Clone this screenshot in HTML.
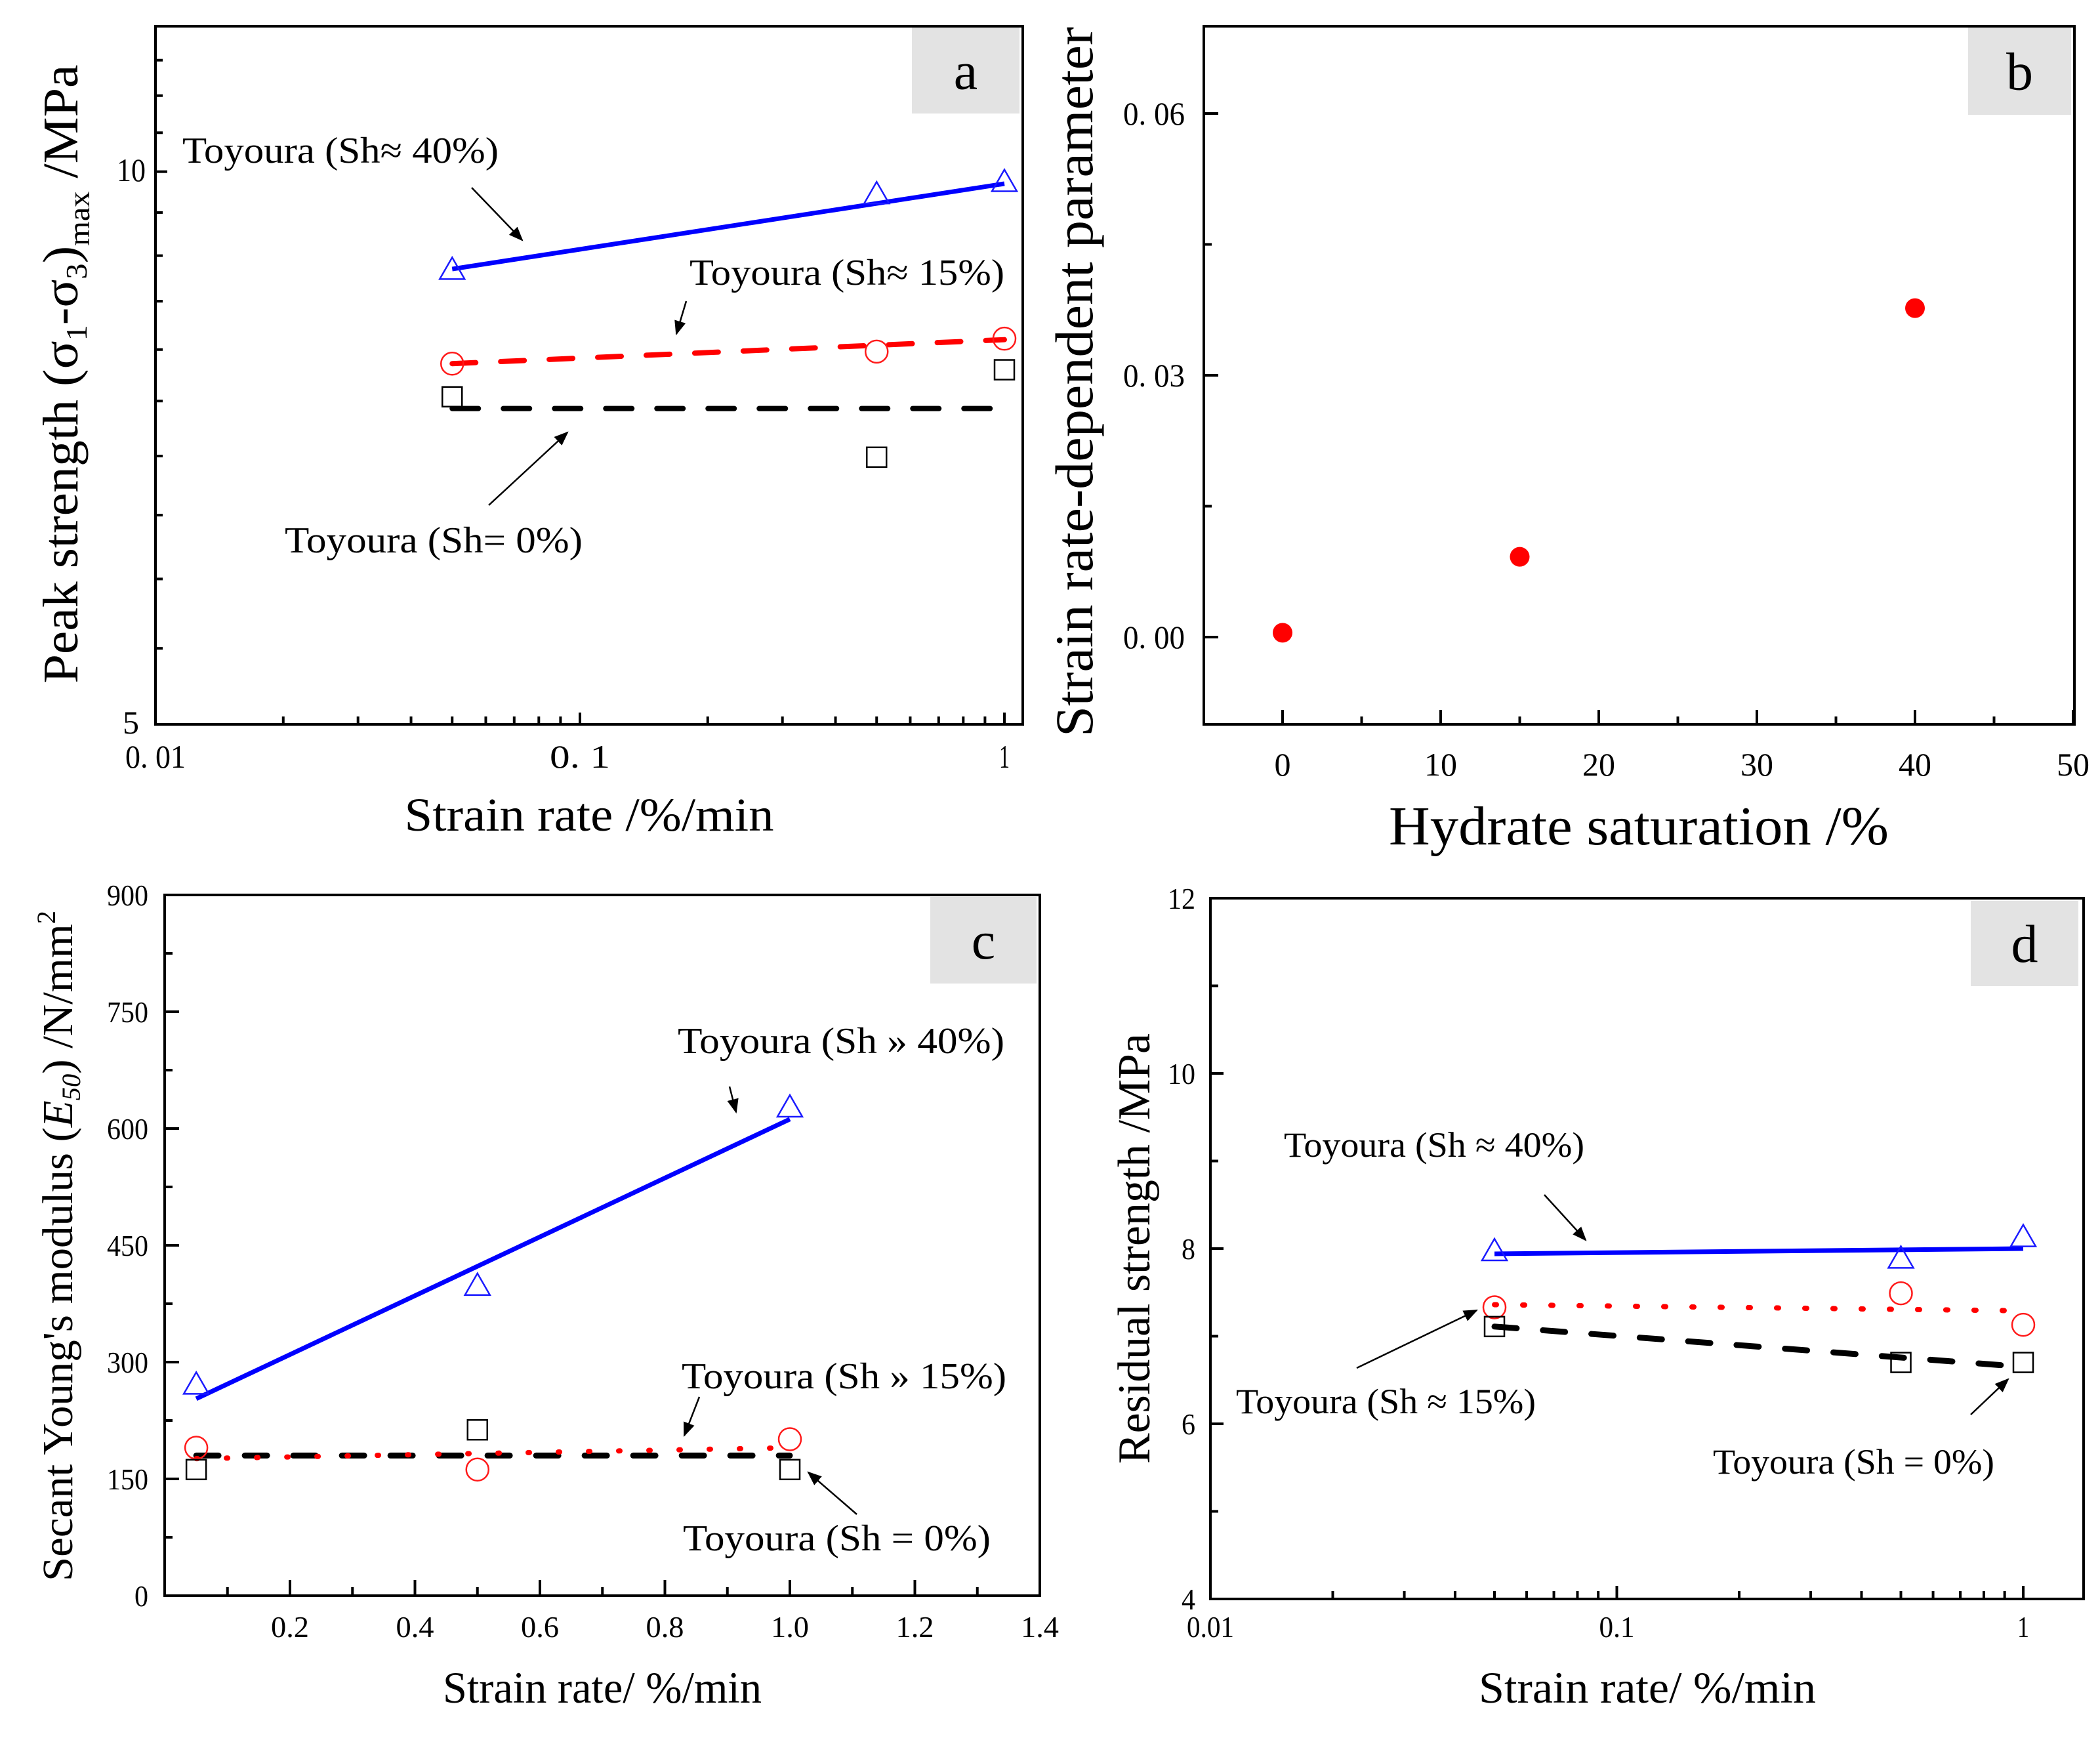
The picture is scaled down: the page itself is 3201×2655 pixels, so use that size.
<!DOCTYPE html>
<html><head><meta charset="utf-8"><style>
html,body{margin:0;padding:0;background:#fff;}
svg{display:block;}
text{font-family:"Liberation Serif",serif;fill:#000;}
</style></head><body>
<svg id="fig" xmlns="http://www.w3.org/2000/svg" width="3201" height="2655" viewBox="0 0 3201 2655"></svg>
<script>
// ---------- Panel a data ----------
const aX = [0.05, 0.5, 1];
const aSh40 = [8.84, 9.72, 9.87];
const aSh15 = [7.86, 7.98, 8.11];
const aSh0 = [7.54, 6.99, 7.8];
const aFit40 = [8.85, 9.85];
const aFit15 = [7.86, 8.1];
const aFit0 = [7.43, 7.43];
const aXTicks = ["0. 01", "0. 1", "1"];
const aYTicks = ["5", "10"];
// ---------- Panel b data ----------
const bX = [0, 15, 40];
const bY = [0.0005, 0.0092, 0.0377];
const bXTicks = ["0", "10", "20", "30", "40", "50"];
const bYTicks = ["0. 00", "0. 03", "0. 06"];
// ---------- Panel c data ----------
const cX = [0.05, 0.5, 1.0];
const cSh40 = [271, 398, 627];
const cSh15 = [190, 162, 201];
const cSh0 = [162, 213, 162];
const cFit40 = [253, 612];
const cFit15 = [176, 190];
const cFit0 = [180, 180];
const cXTicks = ["0.2", "0.4", "0.6", "0.8", "1.0", "1.2", "1.4"];
const cYTicks = ["0", "150", "300", "450", "600", "750", "900"];
// ---------- Panel d data ----------
const dX = [0.05, 0.5, 1];
const dSh40 = [7.97, 7.885, 8.13];
const dSh15 = [7.33, 7.49, 7.13];
const dSh0 = [7.11, 6.7, 6.7];
const dFit40 = [7.94, 8.0];
const dFit15 = [7.36, 7.29];
const dFit0 = [7.11, 6.65];
const dXTicks = ["0.01", "0.1", "1"];
const dYTicks = ["4", "6", "8", "10", "12"];

const NS = "http://www.w3.org/2000/svg";
const svg = document.getElementById("fig");
function el(tag, attrs, parent) {
  const e = document.createElementNS(NS, tag);
  for (const k in attrs) e.setAttribute(k, attrs[k]);
  (parent || svg).appendChild(e);
  return e;
}
function nm(e, n) {
  
  
  return e;
}
function txt(s, x, y, size, opts, name) {
  opts = opts || {};
  const a = {x: x, y: y, "font-size": size, "text-anchor": opts.anchor || "start"};
  if (opts.len) { a.textLength = opts.len; a.lengthAdjust = "spacingAndGlyphs"; }
  if (opts.rot) { a.transform = "rotate(-90 " + x + " " + y + ")"; }
  const t = el("text", a);
  t.textContent = s;
  nm(t, name);
  return t;
}
function logS(v0, v1, p0, p1) { return v => p0 + (Math.log10(v) - Math.log10(v0)) / (Math.log10(v1) - Math.log10(v0)) * (p1 - p0); }
function linS(v0, v1, p0, p1) { return v => p0 + (v - v0) / (v1 - v0) * (p1 - p0); }

function frame(L, T, R, B, name) {
  const r = el("rect", {x: L, y: T, width: R - L, height: B - T, fill: "none", stroke: "#000", "stroke-width": 4});
  nm(r, name);
}
function tickX(x, B, len, name) { const l = el("line", {x1: x, y1: B, x2: x, y2: B - len, stroke: "#000", "stroke-width": 4}); nm(l, name); }
function tickY(y, L, len, name) { const l = el("line", {x1: L, y1: y, x2: L + len, y2: y, stroke: "#000", "stroke-width": 4}); nm(l, name); }
function labelBox(x, y, w, h, s, name) {
  const r = el("rect", {x: x, y: y, width: w, height: h, fill: "#e3e3e3"});
  nm(r, name + "-box");
  txt(s, x + w / 2, y + h / 2 + 28, 82, {anchor: "middle"}, name);
}
function tri(x, y, name) {
  const p = el("polygon", {points: (x) + "," + (y - 19) + " " + (x - 19) + "," + (y + 14) + " " + (x + 19) + "," + (y + 14), fill: "none", stroke: "#1a1aff", "stroke-width": 2.5});
  nm(p, name);
}
function circ(x, y, name) { const c = el("circle", {cx: x, cy: y, r: 17, fill: "none", stroke: "#ff1a1a", "stroke-width": 2.5}); nm(c, name); }
function sq(x, y, name) { const r = el("rect", {x: x - 15, y: y - 15, width: 30, height: 30, fill: "none", stroke: "#000", "stroke-width": 2.5}); nm(r, name); }
function fit(x1, y1, x2, y2, color, dash, w, name) {
  const a = {x1: x1, y1: y1, x2: x2, y2: y2, stroke: color, "stroke-width": w};
  if (dash) { a["stroke-dasharray"] = dash; a["stroke-linecap"] = "round"; }
  const l = el("line", a);
  nm(l, name);
}
const defs = el("defs", {});
const mk = el("marker", {id: "ah", viewBox: "0 0 10 10", refX: 9, refY: 5, markerWidth: 22, markerHeight: 22, orient: "auto", markerUnits: "userSpaceOnUse"}, defs);
el("path", {d: "M0,1 L10,5 L0,9 z", fill: "#000"}, mk);
function arrow(x1, y1, x2, y2, name) {
  const l = el("line", {x1: x1, y1: y1, x2: x2, y2: y2, stroke: "#000", "stroke-width": 2.5, "marker-end": "url(#ah)"});
  nm(l, name);
}

// ================= Panel a =================
(function () {
  const L = 237, T = 40, R = 1559, B = 1104;
  const xs = logS(0.01, 1, 237, 1531), ys = logS(5, 12, B, T);
  frame(L, T, R, B, "panel-a-frame");
  [0.01, 0.1, 1].forEach((v, i) => { tickX(xs(v), B, 18, "a-x-major-tick"); txt(aXTicks[i], xs(v), 1170, 50, {anchor: "middle", len: aXTicks[i].length > 2 ? 92 : (aXTicks[i].length > 1 ? 60 : 16)}, "a-x-tick-label"); });
  for (let d = 0.01; d < 1; d *= 10) for (let k = 2; k <= 9; k++) tickX(xs(d * k), B, 12, "a-x-minor-tick");
  [5, 10].forEach((v, i) => { tickY(ys(v), L, 18, "a-y-major-tick"); });
  txt(aYTicks[0], 212, 1118, 50, {anchor: "end"}, "a-y-tick-label");
  txt(aYTicks[1], 222, 276, 50, {anchor: "end", len: 44}, "a-y-tick-label");
  for (let v = 5.5; v < 12.01; v += 0.5) if (v !== 10) tickY(ys(v), L, 11, "a-y-minor-tick");
  labelBox(1390, 42, 164, 131, "a", "panel-a-label");
  fit(xs(aX[0]), ys(aFit40[0]), xs(aX[2]), ys(aFit40[1]), "#0000ff", null, 7, "a-fit-sh40");
  fit(xs(aX[0]), ys(aFit15[0]), xs(aX[2]), ys(aFit15[1]), "#ff0000", "36 38", 8, "a-fit-sh15");
  fit(xs(aX[0]), ys(aFit0[0]), xs(aX[2]), ys(aFit0[1]), "#000", "40 38", 8, "a-fit-sh0");
  aX.forEach((x, i) => { tri(xs(x), ys(aSh40[i]), "a-point-sh40"); circ(xs(x), ys(aSh15[i]), "a-point-sh15"); sq(xs(x), ys(aSh0[i]), "a-point-sh0"); });
  txt("Toyoura (Sh\u2248 40%)", 278, 248, 56, {len: 482}, "a-annotation-sh40");
  arrow(719, 286, 796, 366, "a-arrow-sh40");
  txt("Toyoura (Sh\u2248 15%)", 1051, 434, 56, {len: 480}, "a-annotation-sh15");
  arrow(1046, 459, 1031, 509, "a-arrow-sh15");
  txt("Toyoura (Sh= 0%)", 434, 842, 56, {len: 454}, "a-annotation-sh0");
  arrow(745, 770, 865, 659, "a-arrow-sh0");
  const yt = el("text", {x: 0, y: 0, "font-size": 76, "text-anchor": "middle", transform: "translate(118 570) rotate(-90)", textLength: 943, lengthAdjust: "spacingAndGlyphs"});
  nm(yt, "a-y-axis-title");
  yt.innerHTML = 'Peak strength (\u03c3<tspan font-size="46" dy="14">1</tspan><tspan dy="-14">-\u03c3</tspan><tspan font-size="46" dy="14">3</tspan><tspan dy="-14">)</tspan><tspan font-size="46" dy="18">max</tspan><tspan dy="-18"> /MPa</tspan>';
  txt("Strain rate /%/min", 898, 1266, 72, {anchor: "middle", len: 563}, "a-x-axis-title");
})();

// ================= Panel b =================
(function () {
  const L = 1835, T = 40, R = 3162, B = 1104;
  const xs = linS(0, 50, 1955, 3160), ys = linS(0, 0.06, 971, 173);
  frame(L, T, R, B, "panel-b-frame");
  [0, 10, 20, 30, 40, 50].forEach((v, i) => { tickX(xs(v), B, 22, "b-x-major-tick"); txt(bXTicks[i], xs(v), 1182, 50, {anchor: "middle"}, "b-x-tick-label"); });
  [5, 15, 25, 35, 45].forEach(v => tickX(xs(v), B, 12, "b-x-minor-tick"));
  [0, 0.03, 0.06].forEach((v, i) => { tickY(ys(v), L, 22, "b-y-major-tick"); txt(bYTicks[i], 1806, ys(v) + 17, 50, {anchor: "end", len: 94}, "b-y-tick-label"); });
  [0.015, 0.045].forEach(v => tickY(ys(v), L, 12, "b-y-minor-tick"));
  labelBox(3000, 42, 157, 133, "b", "panel-b-label");
  bX.forEach((x, i) => { const c = el("circle", {cx: xs(x), cy: ys(bY[i]), r: 15, fill: "#ff0000"}); nm(c, "b-point"); });
  txt("Strain rate-dependent parameter", 1665, 582, 82, {anchor: "middle", rot: true, len: 1082}, "b-y-axis-title");
  txt("Hydrate saturation /%", 2498, 1287, 84, {anchor: "middle", len: 762}, "b-x-axis-title");
})();

// ================= Panel c =================
(function () {
  const L = 251, T = 1364, R = 1585, B = 2432;
  const xs = linS(0, 1.4, 251.5, 1585), ys = linS(0, 900, B, T);
  frame(L, T, R, B, "panel-c-frame");
  [0.2, 0.4, 0.6, 0.8, 1.0, 1.2, 1.4].forEach((v, i) => { tickX(xs(v), B, 24, "c-x-major-tick"); txt(cXTicks[i], xs(v), 2495, 46, {anchor: "middle", len: 58}, "c-x-tick-label"); });
  [0.1, 0.3, 0.5, 0.7, 0.9, 1.1, 1.3].forEach(v => tickX(xs(v), B, 13, "c-x-minor-tick"));
  [0, 150, 300, 450, 600, 750, 900].forEach((v, i) => { tickY(ys(v), L, 22, "c-y-major-tick"); txt(cYTicks[i], 226, ys(v) + 16, 46, {anchor: "end", len: cYTicks[i].length * 21}, "c-y-tick-label"); });
  [75, 225, 375, 525, 675, 825].forEach(v => tickY(ys(v), L, 12, "c-y-minor-tick"));
  labelBox(1418, 1367, 162, 132, "c", "panel-c-label");
  fit(xs(cX[0]), ys(cFit40[0]), xs(cX[2]), ys(cFit40[1]), "#0000ff", null, 7, "c-fit-sh40");
  fit(xs(cX[0]), ys(cFit0[0]), xs(cX[2]), ys(cFit0[1]), "#000", "34 40", 9, "c-fit-sh0");
  fit(xs(cX[0]), ys(cFit15[0]), xs(cX[2]), ys(cFit15[1]), "#ff0000", "2 44", 8, "c-fit-sh15");
  cX.forEach((x, i) => { tri(xs(x), ys(cSh40[i]), "c-point-sh40"); circ(xs(x), ys(cSh15[i]), "c-point-sh15"); sq(xs(x), ys(cSh0[i]), "c-point-sh0"); });
  txt("Toyoura (Sh \u00bb 40%)", 1033, 1605, 56, {len: 498}, "c-annotation-sh40");
  arrow(1112, 1656, 1122, 1695, "c-arrow-sh40");
  txt("Toyoura (Sh \u00bb 15%)", 1039, 2116, 56, {len: 495}, "c-annotation-sh15");
  arrow(1066, 2129, 1043, 2188, "c-arrow-sh15");
  txt("Toyoura (Sh = 0%)", 1041, 2363, 56, {len: 469}, "c-annotation-sh0");
  arrow(1306, 2308, 1232, 2244, "c-arrow-sh0");
  const yt = el("text", {x: 0, y: 0, "font-size": 66, "text-anchor": "middle", transform: "translate(110 1899) rotate(-90)", textLength: 1022, lengthAdjust: "spacingAndGlyphs"});
  nm(yt, "c-y-axis-title");
  yt.innerHTML = 'Secant Young\'s modulus (<tspan font-style="italic">E</tspan><tspan font-size="40" font-style="italic" dy="12">50</tspan><tspan dy="-12">) /N/mm</tspan><tspan font-size="40" dy="-26">2</tspan>';
  txt("Strain rate/ %/min", 918, 2595, 68, {anchor: "middle", len: 486}, "c-x-axis-title");
})();

// ================= Panel d =================
(function () {
  const L = 1845, T = 1369, R = 3176, B = 2437;
  const xs = logS(0.01, 1, 1845, 3084), ys = linS(4, 12, B, T);
  frame(L, T, R, B, "panel-d-frame");
  [0.01, 0.1, 1].forEach((v, i) => { tickX(xs(v), B, 20, "d-x-major-tick"); txt(dXTicks[i], xs(v), 2495, 46, {anchor: "middle", len: dXTicks[i].length * 18}, "d-x-tick-label"); });
  for (let d = 0.01; d < 1; d *= 10) for (let k = 2; k <= 9; k++) tickX(xs(d * k), B, 12, "d-x-minor-tick");
  [4, 6, 8, 10, 12].forEach((v, i) => { tickY(ys(v), L, 20, "d-y-major-tick"); txt(dYTicks[i], 1822, ys(v) + 16, 46, {anchor: "end", len: dYTicks[i].length * 21}, "d-y-tick-label"); });
  [5, 7, 9, 11].forEach(v => tickY(ys(v), L, 12, "d-y-minor-tick"));
  labelBox(3004, 1373, 164, 130, "d", "panel-d-label");
  fit(xs(dX[0]), ys(dFit40[0]), xs(dX[2]), ys(dFit40[1]), "#0000ff", null, 7, "d-fit-sh40");
  fit(xs(dX[0]), ys(dFit15[0]), xs(dX[2]), ys(dFit15[1]), "#ff0000", "3 40", 8, "d-fit-sh15");
  fit(xs(dX[0]), ys(dFit0[0]), xs(dX[2]), ys(dFit0[1]), "#000", "34 40", 9, "d-fit-sh0");
  dX.forEach((x, i) => { tri(xs(x), ys(dSh40[i]), "d-point-sh40"); circ(xs(x), ys(dSh15[i]), "d-point-sh15"); sq(xs(x), ys(dSh0[i]), "d-point-sh0"); });
  txt("Toyoura (Sh \u2248 40%)", 1957, 1763, 54, {len: 458}, "d-annotation-sh40");
  arrow(2354, 1821, 2417, 1890, "d-arrow-sh40");
  txt("Toyoura (Sh \u2248 15%)", 1884, 2154, 54, {len: 457}, "d-annotation-sh15");
  arrow(2068, 2085, 2251, 1997, "d-arrow-sh15");
  txt("Toyoura (Sh = 0%)", 2611, 2246, 54, {len: 429}, "d-annotation-sh0");
  arrow(3004, 2156, 3061, 2102, "d-arrow-sh0");
  txt("Residual strength /MPa", 1752, 1903, 70, {anchor: "middle", rot: true, len: 656}, "d-y-axis-title");
  txt("Strain rate/ %/min", 2511, 2595, 68, {anchor: "middle", len: 514}, "d-x-axis-title");
})();
</script>
</body></html>
